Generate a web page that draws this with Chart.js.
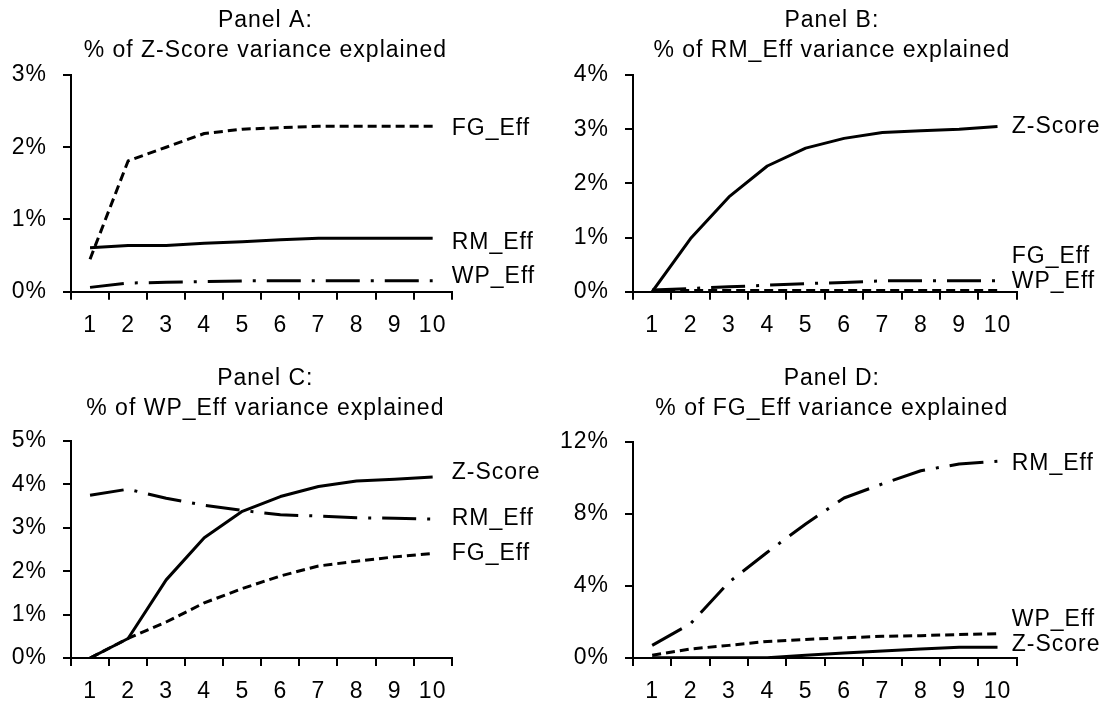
<!DOCTYPE html>
<html>
<head>
<meta charset="utf-8">
<script src="https://cdn.jsdelivr.net/npm/chart.js@4"></script>
<style>
  html, body { margin: 0; padding: 0; background: #fff; }
  body { width: 1107px; height: 704px; position: relative; overflow: hidden; }
  canvas { position: absolute; }
</style>
</head>
<body>
<canvas id="panelA"></canvas>
<canvas id="panelB"></canvas>
<canvas id="panelC"></canvas>
<canvas id="panelD"></canvas>
<script>
// x categories (number of factors)
const xLabels = ['1', '2', '3', '4', '5', '6', '7', '8', '9', '10'];

// Panel A: % of Z-Score variance explained
const aFG = [0.45, 1.81, 2.00, 2.19, 2.25, 2.27, 2.29, 2.29, 2.29, 2.29];
const aRM = [0.61, 0.64, 0.64, 0.67, 0.69, 0.72, 0.74, 0.74, 0.74, 0.74];
const aWP = [0.06, 0.12, 0.13, 0.14, 0.15, 0.15, 0.15, 0.15, 0.15, 0.15];

// Panel B: % of RM_Eff variance explained
const bZ  = [0.00, 0.98, 1.75, 2.32, 2.65, 2.83, 2.94, 2.97, 3.00, 3.05];
const bFG = [0.02, 0.02, 0.02, 0.02, 0.02, 0.02, 0.02, 0.02, 0.02, 0.02];
const bWP = [0.03, 0.06, 0.09, 0.12, 0.15, 0.17, 0.20, 0.20, 0.20, 0.20];

// Panel C: % of WP_Eff variance explained
const cZ  = [0.00, 0.45, 1.80, 2.77, 3.38, 3.72, 3.95, 4.08, 4.12, 4.17];
const cRM = [3.75, 3.89, 3.68, 3.52, 3.40, 3.30, 3.27, 3.23, 3.22, 3.20];
const cFG = [0.00, 0.45, 0.83, 1.27, 1.60, 1.89, 2.12, 2.23, 2.33, 2.41];

// Panel D: % of FG_Eff variance explained
const dRM = [0.70, 1.90, 4.20, 5.86, 7.43, 8.87, 9.65, 10.38, 10.75, 10.90];
const dWP = [0.15, 0.50, 0.70, 0.92, 1.03, 1.12, 1.20, 1.24, 1.30, 1.35];
const dZ  = [0.02, 0.02, 0.02, 0.02, 0.15, 0.28, 0.39, 0.50, 0.59, 0.59];

const FONT = "'Liberation Sans', Arial, sans-serif";
const SOLID = [];
const DASH = [9, 5];
const DASHDOT = [34, 11, 3, 11];

// draws the two-line panel title and the series names at the line ends
const panelText = {
  id: 'panelText',
  beforeDraw(chart) {
    chart.ctx.letterSpacing = '1px';
  },
  afterDraw(chart, args, opts) {
    const ctx = chart.ctx;
    const area = chart.chartArea;
    const yScale = chart.scales.y;
    ctx.save();
    ctx.letterSpacing = '1px';
    ctx.fillStyle = '#000';
    ctx.font = '23px ' + FONT;
    ctx.textBaseline = 'middle';
    ctx.textAlign = 'center';
    const cx = (area.left + area.right) / 2 + opts.titleDx;
    opts.title.forEach((line, i) => {
      ctx.fillText(line, cx, opts.titleY[i]);
    });
    ctx.textAlign = 'left';
    chart.data.datasets.forEach(ds => {
      ctx.fillText(ds.label, area.right + opts.labelDx, yScale.getPixelForValue(ds.labelAt));
    });
    ctx.restore();
  }
};

function series(label, values, dash, labelAt) {
  return {
    label: label,
    data: values,
    borderColor: '#000',
    borderWidth: 3,
    borderDash: dash,
    borderCapStyle: 'butt',
    borderJoinStyle: 'round',
    pointRadius: 0,
    tension: 0,
    fill: false,
    labelAt: labelAt
  };
}

function makePanel(id, box, area, yMax, yStep, title, titleY, titleDx, labelDx, datasets) {
  const canvas = document.getElementById(id);
  canvas.style.left = box[0] + 'px';
  canvas.style.top = box[1] + 'px';
  canvas.width = box[2];
  canvas.height = box[3];
  const axisGrid = {
    display: true,
    drawOnChartArea: false,
    drawTicks: true,
    tickLength: 8,
    color: '#000',
    lineWidth: 2
  };
  return new Chart(canvas, {
    type: 'line',
    data: { labels: xLabels, datasets: datasets },
    options: {
      responsive: false,
      animation: false,
      devicePixelRatio: 1,
      layout: {
        padding: {
          left: 0,
          top: area.top - box[1],
          right: box[0] + box[2] - area.right,
          bottom: 0
        }
      },
      plugins: {
        legend: { display: false },
        tooltip: { enabled: false },
        title: { display: false },
        panelText: { title: title, titleY: titleY, titleDx: titleDx, labelDx: labelDx }
      },
      scales: {
        x: {
          type: 'category',
          offset: true,
          grid: Object.assign({ offset: true }, axisGrid),
          border: { display: true, color: '#000', width: 2 },
          ticks: { color: '#000', font: { family: FONT, size: 23 }, padding: 12, maxRotation: 0, autoSkip: false },
          afterFit(scale) { scale.height = box[1] + box[3] - area.bottom; }
        },
        y: {
          min: 0,
          max: yMax,
          grid: axisGrid,
          border: { display: true, color: '#000', width: 2 },
          ticks: {
            stepSize: yStep,
            color: '#000',
            font: { family: FONT, size: 23 },
            padding: 16,
            callback: v => v + '%'
          },
          afterFit(scale) { scale.width = area.left - box[0]; }
        }
      }
    },
    plugins: [panelText]
  });
}

makePanel('panelA', [0, 0, 553, 352], { left: 71, right: 451.7, top: 75, bottom: 291.7 },
  3, 1, ['Panel A:', '% of Z-Score variance explained'], [21, 51], 4, 0, [
    series('FG_Eff', aFG, DASH, 2.26),
    series('RM_Eff', aRM, SOLID, 0.68),
    series('WP_Eff', aWP, DASHDOT, 0.21)
  ]);

makePanel('panelB', [553, 0, 554, 352], { left: 633, right: 1016.7, top: 75, bottom: 291.7 },
  4, 1, ['Panel B:', '% of RM_Eff variance explained'], [21, 51], 7, -5, [
    series('Z-Score', bZ, SOLID, 3.04),
    series('FG_Eff', bFG, DASH, 0.65),
    series('WP_Eff', bWP, DASHDOT, 0.18)
  ]);

makePanel('panelC', [0, 352, 553, 352], { left: 71, right: 451.7, top: 441, bottom: 658 },
  5, 1, ['Panel C:', '% of WP_Eff variance explained'], [27, 57], 4, 0, [
    series('Z-Score', cZ, SOLID, 4.26),
    series('RM_Eff', cRM, DASHDOT, 3.22),
    series('FG_Eff', cFG, DASH, 2.41)
  ]);

makePanel('panelD', [553, 352, 554, 352], { left: 633, right: 1016.7, top: 441.5, bottom: 658 },
  12, 4, ['Panel D:', '% of FG_Eff variance explained'], [27, 57], 7, -5, [
    series('RM_Eff', dRM, DASHDOT, 10.79),
    series('WP_Eff', dWP, DASH, 2.11),
    series('Z-Score', dZ, SOLID, 0.72)
  ]);
</script>
</body>
</html>
